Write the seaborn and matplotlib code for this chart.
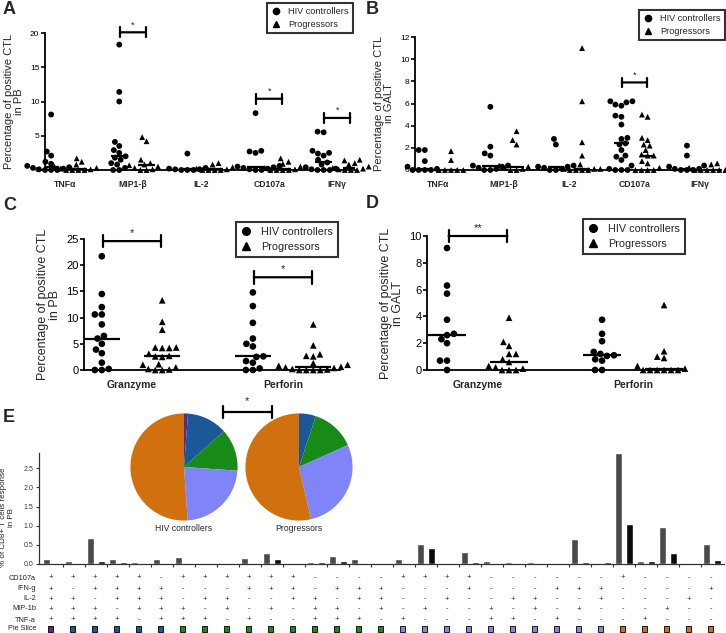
import numpy as np
import pandas as pd
import matplotlib
matplotlib.use("Agg")
import matplotlib.pyplot as plt
import matplotlib.transforms as mtransforms
from matplotlib.lines import Line2D
import seaborn as sns

sns.set_style("ticks")
plt.rcParams["font.family"] = ["Liberation Sans", "DejaVu Sans"]

W, H = 726, 633
GROUPS = ["HIV controllers", "Progressors"]

# ---------------- Panel A (PB) ----------------
cats_ab = ["TNFα", "MIP1-β", "IL-2", "CD107a", "IFNγ"]
a_ctrl = [
    [8.1, 2.7, 2.1, 1.2, 0.9, 0.6, 0.4, 0.3, 0.2, 0.1, 0.0, 0.0, 0.0],
    [18.3, 11.4, 10.0, 4.1, 3.5, 2.9, 2.5, 2.0, 1.8, 1.5, 1.0, 0.8, 0.3, 0.0, 0.0],
    [2.4, 0.3, 0.2, 0.1, 0.1, 0.0, 0.0, 0.0],
    [8.3, 2.8, 2.7, 2.5, 0.6, 0.5, 0.4, 0.3, 0.2, 0.1, 0.0, 0.0],
    [5.6, 5.5, 2.8, 2.5, 2.4, 2.1, 1.5, 1.1, 0.8, 0.4, 0.2, 0.1, 0.0, 0.0, 0.0],
]
a_prog = [
    [1.7, 1.2, 0.8, 0.5, 0.3, 0.2, 0.1, 0.0, 0.0, 0.0, 0.0],
    [4.8, 4.2, 1.5, 1.0, 0.8, 0.7, 0.5, 0.3, 0.1, 0.0, 0.0],
    [1.0, 0.8, 0.4, 0.2, 0.1, 0.0, 0.0, 0.0, 0.0],
    [1.7, 1.2, 0.9, 0.5, 0.3, 0.1, 0.0, 0.0, 0.0, 0.0],
    [1.5, 1.4, 1.0, 0.8, 0.5, 0.3, 0.2, 0.1, 0.0, 0.0, 0.0],
]
a_sig_cats = [1, 3, 4]
a_sig_y = [20.1, 10.4, 7.6]
a_sig_lab = ["*", "*", "*"]

# ---------------- Panel B (GALT) ----------------
b_ctrl = [
    [1.8, 1.8, 0.8, 0.3, 0.1, 0.0, 0.0, 0.0, 0.0],
    [5.7, 2.1, 1.5, 1.3, 0.4, 0.4, 0.3, 0.2, 0.1, 0.0, 0.0],
    [2.8, 2.3, 0.4, 0.3, 0.3, 0.2, 0.1, 0.0, 0.0],
    [6.2, 6.2, 6.1, 5.9, 5.8, 4.9, 4.8, 4.1, 2.9, 2.8, 2.4, 2.3, 1.8, 1.3, 1.2, 0.9, 0.4, 0.1, 0.0, 0.0, 0.0],
    [2.2, 1.3, 0.4, 0.3, 0.1, 0.1, 0.0, 0.0, 0.0],
]
b_prog = [
    [1.7, 0.9, 0.0, 0.0, 0.0, 0.0, 0.0],
    [3.5, 2.7, 2.3, 0.4, 0.3, 0.2, 0.1, 0.0, 0.0],
    [11.0, 6.2, 2.5, 1.3, 0.5, 0.1, 0.1, 0.1, 0.0, 0.0, 0.0, 0.0],
    [5.0, 4.8, 2.9, 2.7, 2.3, 2.2, 1.8, 1.4, 1.3, 1.3, 0.8, 0.6, 0.2, 0.0, 0.0, 0.0, 0.0],
    [0.6, 0.5, 0.3, 0.2, 0.1, 0.0, 0.0, 0.0, 0.0, 0.0, 0.0],
]
b_sig_cats = [3]
b_sig_y = [7.9]
b_sig_lab = ["*"]

# ---------------- Panel C (PB) ----------------
cats_cd = ["Granzyme", "Perforin"]
c_ctrl = [
    [21.7, 14.5, 12.0, 10.6, 10.6, 8.7, 6.5, 6.0, 5.0, 3.9, 3.2, 1.4, 0.2, 0.0, 0.0],
    [14.8, 12.2, 9.0, 6.0, 5.0, 4.5, 2.6, 2.5, 1.7, 1.4, 0.3, 0.0, 0.0],
]
c_prog = [
    [13.3, 9.2, 7.7, 4.3, 4.3, 4.2, 4.2, 3.1, 2.7, 2.6, 2.5, 1.1, 1.0, 0.5, 0.2, 0.1, 0.0, 0.0],
    [8.7, 4.7, 3.0, 2.7, 2.6, 1.3, 1.0, 0.8, 0.6, 0.5, 0.4, 0.2, 0.1, 0.0, 0.0, 0.0, 0.0],
]
c_sig_cats = [0, 1]
c_sig_y = [24.6, 17.7]
c_sig_lab = ["*", "*"]

# ---------------- Panel D (GALT) ----------------
d_ctrl = [
    [9.1, 6.3, 5.7, 3.75, 2.7, 2.6, 2.3, 2.0, 0.7, 0.7, 0.0],
    [3.75, 2.7, 2.15, 1.35, 1.2, 1.1, 1.05, 0.8, 0.7, 0.0, 0.0],
]
d_prog = [
    [3.9, 2.1, 1.8, 1.2, 1.2, 0.8, 0.6, 0.3, 0.2, 0.1, 0.0, 0.0, 0.0],
    [4.85, 1.4, 1.0, 0.9, 0.3, 0.1, 0.0, 0.0, 0.0, 0.0, 0.0, 0.0],
]
d_sig_cats = [0]
d_sig_y = [10.0]
d_sig_lab = ["**"]

# ---------------- Panel E ----------------
row_names = ["CD107a", "IFN-g", "IL-2", "MIP-1b", "TNF-a"]
row_signs = [
    "+++++-" + "++++++----" + "++++------" + "+----",
    "+-++++" + "---+++-+++" + "---+---+++" + "----+",
    "++-+++" + "-++--++-++" + "--+--++--+" + "---+-",
    "+++-++" + "+-+-+-++-+" + "-+--+-+-+-" + "--+--",
    "++++-+" + "++-+--+++-" + "+---++-+--" + "-+---",
]
e_ctrl = [0.12, 0.08, 0.67, 0.13, 0.06, 0.13, 0.17, 0.005, 0.02, 0.15, 0.28, 0.005,
          0.06, 0.20, 0.13, 0.01, 0.12, 0.53, 0.03, 0.31, 0.08, 0.04, 0.05, 0.01,
          0.65, 0.03, 2.89, 0.07, 0.96, 0.03, 0.52]
e_prog = [0.01, 0.01, 0.08, 0.06, 0.01, 0.01, 0.02, 0.03, 0.005, 0.02, 0.12, 0.005,
          0.04, 0.08, 0.01, 0.005, 0.02, 0.43, 0.01, 0.06, 0.005, 0.005, 0.03, 0.01,
          0.04, 0.04, 1.04, 0.07, 0.30, 0.01, 0.11]
slice_names = ["5 functions", "4 functions", "3 functions", "2 functions", "1 function"]
slice_colors = ["#5a2a86", "#1b5897", "#178a17", "#7f85f7", "#d0700f"]
pie_ctrl = [1.2, 12.2, 12.7, 22.8, 51.1]
pie_prog = [0.0, 5.1, 13.2, 28.1, 53.6]
bar_colors = ["#4a4a4a", "#0a0a0a"]


def long_df(cats, ctrl, prog):
    rows = []
    for c, vc, vp in zip(cats, ctrl, prog):
        rows += [(c, GROUPS[0], v) for v in vc]
        rows += [(c, GROUPS[1], v) for v in vp]
    return pd.DataFrame(rows, columns=["cat", "group", "val"])


def add_axes_px(fig, x0, y_top, x1, y_bot):
    return fig.add_axes([x0 / W, 1 - y_bot / H, (x1 - x0) / W, (y_bot - y_top) / H])


def dot_panel(ax, cats, ctrl, prog, xlim, ylim, yticks, ylabel, msize,
              ylab_fs, tick_fs, cat_fs, sig_cats, sig_y, sig_lab, star_fs, cap):
    df = long_df(cats, ctrl, prog)
    for g, m in zip(GROUPS, ["o", "^"]):
        sns.swarmplot(data=df[df.group == g], x="cat", y="val", hue="group",
                      hue_order=GROUPS, order=cats, dodge=True, marker=m,
                      palette=["black", "black"], size=msize, legend=False,
                      warn_thresh=1, ax=ax)
    sns.boxplot(data=df, x="cat", y="val", hue="group", hue_order=GROUPS,
                order=cats, dodge=True, width=0.8, gap=0.4, showbox=False,
                showcaps=False, showfliers=False,
                whiskerprops={"visible": False},
                medianprops={"color": "black", "linewidth": 1.6},
                legend=False, ax=ax)
    for c in ax.collections:
        c.set_clip_on(False)
    ax.set_xlim(*xlim)
    ax.set_ylim(*ylim)
    ax.set_yticks(yticks)
    ax.set_xlabel("")
    ax.set_ylabel(ylabel, fontsize=ylab_fs, linespacing=1.0)
    sns.despine(ax=ax)
    for s in ["left", "bottom"]:
        ax.spines[s].set_linewidth(1.3)
        ax.spines[s].set_color("black")
    ax.tick_params(axis="y", length=3, width=1.2, labelsize=tick_fs, pad=1, colors="black")
    ax.tick_params(axis="x", length=0, labelsize=cat_fs, pad=7)
    for t in ax.get_xticklabels():
        t.set_fontweight("bold")
    for ci, y, lab in zip(sig_cats, sig_y, sig_lab):
        ax.annotate("", xy=(ci - 0.19, y), xytext=(ci + 0.19, y),
                    arrowprops=dict(arrowstyle=f"|-|,widthA={cap},widthB={cap}",
                                    lw=1.6, color="black", shrinkA=0, shrinkB=0),
                    annotation_clip=False)
        ax.annotate(lab, xy=(ci, y), xytext=(0, 2), textcoords="offset points",
                    ha="center", va="bottom", fontsize=star_fs, annotation_clip=False)


def legend_box(ax, fig, x_right, y_top, fs, ms):
    handles = [Line2D([], [], marker="o", ls="", color="black", markersize=ms),
               Line2D([], [], marker="^", ls="", color="black", markersize=ms)]
    leg = ax.legend(handles, GROUPS, loc="upper right",
                    bbox_to_anchor=(x_right / W, 1 - y_top / H),
                    bbox_transform=fig.transFigure, frameon=True, fancybox=False,
                    edgecolor="black", fontsize=fs, borderpad=0.45,
                    handletextpad=0.9, labelspacing=0.45, handlelength=1.0,
                    borderaxespad=0)
    leg.get_frame().set_linewidth(1.5)


fig = plt.figure(figsize=(W / 100, H / 100), dpi=100)
fig.patch.set_facecolor("white")

# Panel A
axA = add_axes_px(fig, 45, 33, 355, 170)
dot_panel(axA, cats_ab, a_ctrl, a_prog, (-0.29, 4.26), (0, 20), [0, 5, 10, 15, 20],
          "Percentage of positive CTL\nin PB", 4.2, 8, 6, 6.2,
          a_sig_cats, a_sig_y, a_sig_lab, 6.5, 0.35)
legend_box(axA, fig, 353, 3, 6.6, 4.5)

# Panel B
axB = add_axes_px(fig, 415, 37, 721, 170)
dot_panel(axB, cats_ab, b_ctrl, b_prog, (-0.35, 4.32), (0, 12), [0, 2, 4, 6, 8, 10, 12],
          "Percentage of positive CTL\nin GALT", 4.2, 8, 6, 6.2,
          b_sig_cats, b_sig_y, b_sig_lab, 6.5, 0.35)
legend_box(axB, fig, 725, 10, 6.6, 4.5)

# Panel C
axC = add_axes_px(fig, 84, 239, 340, 370)
dot_panel(axC, cats_cd, c_ctrl, c_prog, (-0.318, 1.377), (0, 25), [0, 5, 10, 15, 20, 25],
          "Percentage of positive CTL\nin PB", 4.8, 9, 8, 7.5,
          c_sig_cats, c_sig_y, c_sig_lab, 8, 0.45)
legend_box(axC, fig, 338, 222, 7.8, 5.5)

# Panel D
axD = add_axes_px(fig, 427, 236, 685, 370)
dot_panel(axD, cats_cd, d_ctrl, d_prog, (-0.329, 1.335), (0, 10), [0, 2, 4, 6, 8, 10],
          "Percentage of positive CTL\nin GALT", 4.8, 9, 8, 7.5,
          d_sig_cats, d_sig_y, d_sig_lab, 8, 0.45)
legend_box(axD, fig, 685, 219, 7.8, 5.5)

# Panel E bar chart
combo_ids = [f"c{i+1}" for i in range(len(e_ctrl))]
df_e = pd.DataFrame({
    "combo": combo_ids * 2,
    "group": [GROUPS[0]] * len(e_ctrl) + [GROUPS[1]] * len(e_prog),
    "val": e_ctrl + e_prog,
})
axE = add_axes_px(fig, 39, 453, 724, 564)
sns.barplot(data=df_e, x="combo", y="val", hue="group", hue_order=GROUPS,
            order=combo_ids, palette=bar_colors, width=1.0, gap=0.36,
            errorbar=None, legend=False, saturation=1, ax=axE)
axE.set_xlim(-0.6, 30.54)
axE.set_ylim(0, 2.9)
axE.set_yticks([0.0, 0.5, 1.0, 1.5, 2.0, 2.5])
axE.set_yticklabels([f"{v:.1f}" for v in [0.0, 0.5, 1.0, 1.5, 2.0, 2.5]])
axE.set_xticks([])
axE.set_xticks(np.arange(0.5, 30, 1), minor=True)
axE.tick_params(axis="x", which="minor", length=2.5, width=0.8, colors="#333333")
axE.tick_params(axis="y", length=2, width=0.8, labelsize=5, pad=2, colors="#333333")
axE.set_xlabel("")
axE.set_ylabel("% of CD8+ T cells response\nin PB", fontsize=5.8, linespacing=1.15, labelpad=4)
axE.yaxis.set_label_coords(-0.035, 0.42)
sns.despine(ax=axE)
for s in ["left", "bottom"]:
    axE.spines[s].set_linewidth(0.9)
    axE.spines[s].set_color("#333333")

# Boolean table under panel E
blend = mtransforms.blended_transform_factory(axE.transData, fig.transFigure)
row_y_px = [578, 589, 599, 609, 620]
for name, signs, ypx in zip(row_names, row_signs, row_y_px):
    fig.text(36 / W, 1 - ypx / H, name, ha="right", va="center", fontsize=5.3, color="#222222")
    for i, s in enumerate(signs):
        axE.text(i - 0.07, 1 - ypx / H, "+" if s == "+" else "-", transform=blend,
                 ha="center", va="center", fontsize=5.5, color="#222222", clip_on=False)
fig.text(36 / W, 1 - 629 / H, "Pie Slice", ha="right", va="center", fontsize=5.3, color="#222222")
n_funcs = [sum(r[i] == "+" for r in row_signs) for i in range(len(e_ctrl))]
sq_colors = [slice_colors[5 - n] for n in n_funcs]
axE.scatter(np.arange(len(e_ctrl)) - 0.07, [1 - 629 / H] * len(e_ctrl), transform=blend,
            marker="s", s=14, c=sq_colors, edgecolors="black", linewidths=0.6, clip_on=False)

# Pies
for cx, vals, lab in [(184, pie_ctrl, "HIV controllers"), (299, pie_prog, "Progressors")]:
    axp = add_axes_px(fig, cx - 54, 467 - 54, cx + 54, 467 + 54)
    axp.pie(vals, colors=slice_colors, startangle=90, counterclock=False, radius=1.24,
            wedgeprops={"linewidth": 0})
    axp.text(0.5, -0.03, lab, transform=axp.transAxes, ha="center", va="top", fontsize=6.2)

fig.add_artist(matplotlib.patches.FancyArrowPatch(
    (223 / W, 1 - 412 / H), (272 / W, 1 - 412 / H), transform=fig.transFigure,
    arrowstyle="|-|,widthA=0.45,widthB=0.45", lw=1.6, color="black",
    shrinkA=0, shrinkB=0, mutation_scale=10))
fig.text(247 / W, 1 - 401 / H, "*", ha="center", va="center", fontsize=8)

# Panel letters
for letter, x, y in [("A", 3, 9), ("B", 366, 9), ("C", 3, 205), ("D", 366, 204), ("E", 3, 418)]:
    fig.text(x / W, 1 - y / H, letter, ha="left", va="center", fontsize=13, fontweight="bold")

fig.savefig("out.png", dpi=100, facecolor="white")
